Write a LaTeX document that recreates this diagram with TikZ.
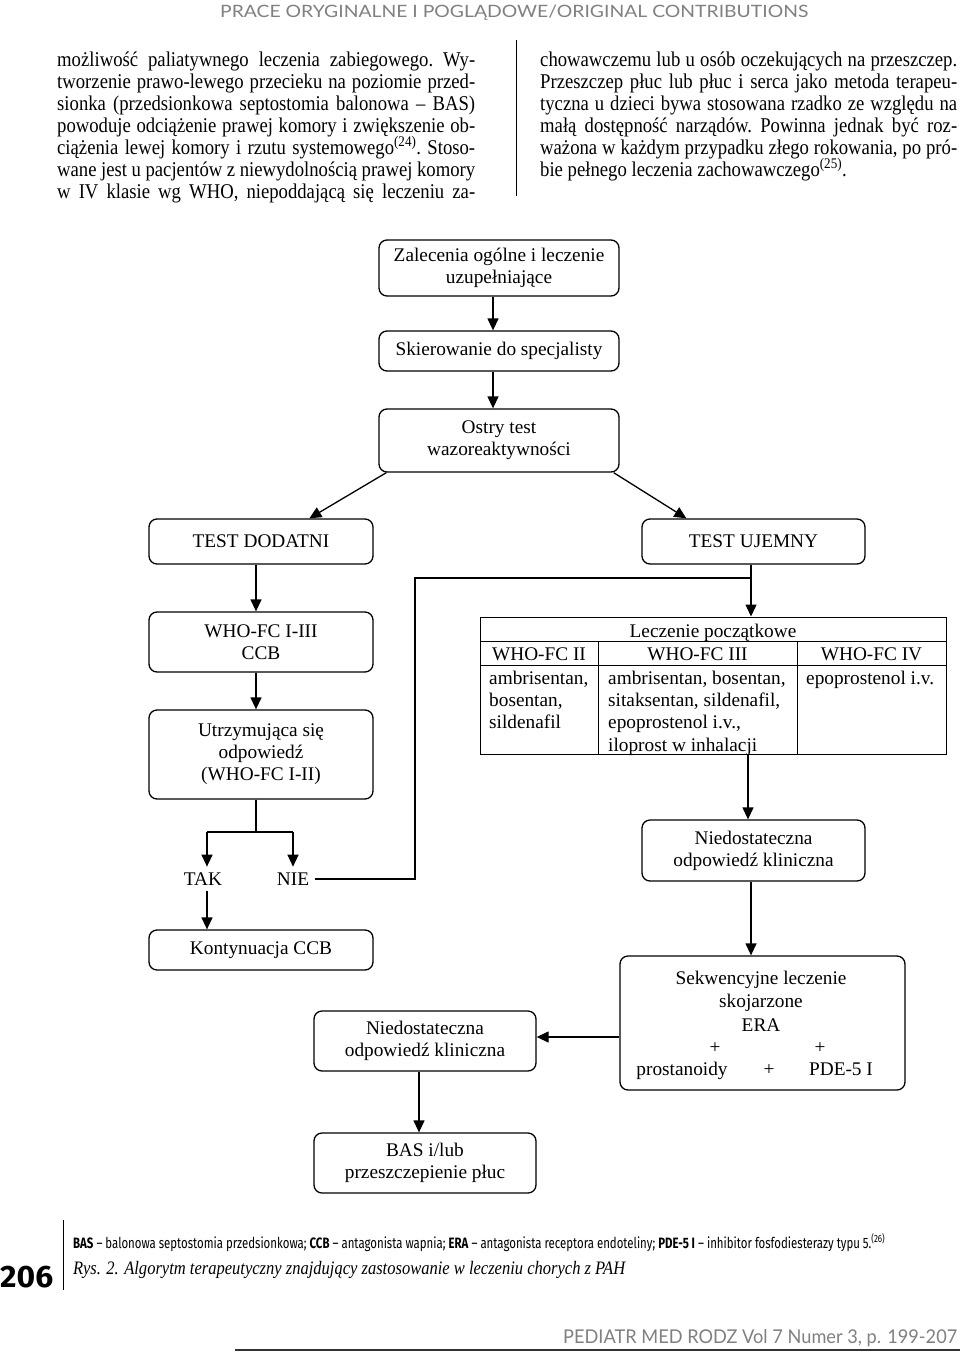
\documentclass[tikz,border=0pt]{standalone}
\usepackage{fontspec}
\usepackage{graphicx}
\setmainfont{Liberation Serif}
\newfontfamily\bodyf[FakeStretch=0.89]{Liberation Serif}
\newfontfamily\legf{Fira Sans}
\newfontfamily\hdrf{Lato}
\usetikzlibrary{arrows.meta}
\definecolor{hdrgray}{HTML}{808080}
\newcommand\fcfs{\fontsize{19.3}{22}\selectfont}
\newcommand\bodyfs{\bodyf\fontsize{21}{22}\selectfont\frenchspacing}
\tikzset{
  box/.style={draw, line width=1.3pt, rounded corners=8pt, inner sep=0pt, align=center, font=\fcfs},
  ln/.style={line width=1.3pt},
  tl/.style={line width=1pt},
  arr/.style={line width=1.3pt, -{Triangle[length=12pt,width=11pt]}},
  txt/.style={inner sep=0pt, font=\fcfs},
  bl/.style={anchor=base west, inner sep=0pt, font=\bodyfs},
}
\newcommand\jline[4]{\node[bl] (#1) at (#2) {\makebox[#3][s]{#4}};}
\begin{document}
\begin{tikzpicture}[x=1pt,y=-1pt]
\fill[white] (0,0) rectangle (960,1352);
\useasboundingbox (0,0) rectangle (960,1352);

% header
\node[anchor=base west, inner sep=0pt, text=hdrgray] (hdr) at (220,17)
  {\hdrf\fontsize{17}{17}\selectfont\resizebox{588pt}{\height}{PRACE ORYGINALNE I POGLĄDOWE/ORIGINAL CONTRIBUTIONS}};

% body text, left column
\jline{l1}{57,66}{418pt}{możliwość paliatywnego leczenia zabiegowego. Wy-}
\jline{l2}{57,88}{418pt}{tworzenie prawo-lewego przecieku na poziomie przed-}
\jline{l3}{57,110}{418pt}{sionka (przedsionkowa septostomia balonowa – BAS)}
\jline{l4}{57,132}{418pt}{powoduje odciążenie prawej komory i zwiększenie ob-}
\jline{l5}{57,154}{418pt}{ciążenia lewej komory i rzutu systemowego\textsuperscript{(24)}. Stoso-}
\jline{l6}{57,176}{418pt}{wane jest u pacjentów z niewydolnością prawej komory}
\jline{l7}{57,198}{418pt}{w IV klasie wg WHO, niepoddającą się leczeniu za-}
% divider
\coordinate (dv1) at (516,40);
\coordinate (dv2) at (516,196);
\draw[line width=1pt] (dv1) -- (dv2);
% right column
\jline{r1}{540,66}{417pt}{chowawczemu lub u osób oczekujących na przeszczep.}
\jline{r2}{540,88}{417pt}{Przeszczep płuc lub płuc i serca jako metoda terapeu-}
\jline{r3}{540,110}{417pt}{tyczna u dzieci bywa stosowana rzadko ze względu na}
\jline{r4}{540,132}{417pt}{małą dostępność narządów. Powinna jednak być roz-}
\jline{r5}{540,154}{417pt}{ważona w każdym przypadku złego rokowania, po pró-}
\node[bl] (r6) at (540,176) {bie pełnego leczenia zachowawczego\textsuperscript{(25)}.};

% flowchart boxes
\node[box, minimum width=240pt, minimum height=56pt] (z1) at (499,268) {Zalecenia ogólne i leczenie\\uzupełniające};
\node[box, minimum width=240pt, minimum height=40pt] (z2) at (499,351) {Skierowanie do specjalisty};
\node[box, minimum width=240pt, minimum height=63pt] (z3) at (499,440.5) {Ostry test\\wazoreaktywności};
\node[box, minimum width=224pt, minimum height=45pt] (dod) at (261,541.5) {TEST DODATNI};
\node[box, minimum width=223pt, minimum height=45pt] (uje) at (753.5,541.5) {TEST UJEMNY};
\node[box, minimum width=224pt, minimum height=60pt] (who) at (261,642) {WHO-FC I-III\\CCB};
\node[box, minimum width=224pt, minimum height=89pt] (utrz) at (261,754.5) {Utrzymująca się\\odpowiedź\\(WHO-FC I-II)};
\node[txt, outer sep=6pt] (tak) at (203,879) {TAK};
\node[txt, outer sep=6pt] (nie) at (293,879) {NIE};
\node[box, minimum width=224pt, minimum height=40pt] (kont) at (261,950) {Kontynuacja CCB};
\node[box, minimum width=223pt, minimum height=61pt] (nied1) at (753.5,850.5) {Niedostateczna\\odpowiedź kliniczna};
\node[box, minimum width=285pt, minimum height=134pt] (sekw) at (762.5,1023) {};
\node[txt] (s1) at (761,980) {Sekwencyjne leczenie};
\node[txt, anchor=base] (s2) at (761,1007.5) {skojarzone};
\node[txt, anchor=base] (s3) at (761,1031.5) {ERA};
\node[txt, anchor=base] (p1) at (715,1053.5) {+};
\node[txt, anchor=base] (p2) at (820,1053.5) {+};
\node[txt, anchor=base] (pr) at (682,1075.5) {prostanoidy};
\node[txt, anchor=base] (p3) at (769,1075.5) {+};
\node[txt, anchor=base] (pde) at (841,1075.5) {PDE-5 I};
\node[box, minimum width=222pt, minimum height=60pt] (nied2) at (425,1041) {Niedostateczna\\odpowiedź kliniczna};
\node[box, minimum width=222pt, minimum height=60pt] (bas) at (425,1163) {BAS i/lub\\przeszczepienie płuc};

% table
\node[draw, line width=1pt, minimum width=466pt, minimum height=137pt, inner sep=0pt] (tab) at (713,685.5) {};
\coordinate (h1) at (0,641);
\coordinate (h2) at (0,665);
\coordinate (v1) at (598,0);
\coordinate (v2) at (797,0);
\draw[tl] (tab.west |- h1) -- (tab.east |- h1);
\draw[tl] (tab.west |- h2) -- (tab.east |- h2);
\draw[tl] (v1 |- h1) -- (v1 |- tab.south);
\draw[tl] (v2 |- h1) -- (v2 |- tab.south);
\node[txt, anchor=base] (th) at (713,637.5) {Leczenie początkowe};
\node[txt, anchor=base] (c1) at (539,660) {WHO-FC II};
\node[txt, anchor=base] (c2) at (697.5,660) {WHO-FC III};
\node[txt, anchor=base] (c3) at (871.5,660) {WHO-FC IV};
\node[txt, anchor=base west] (a1) at (489,684.5) {ambrisentan,};
\node[txt, anchor=base west] (a2) at (489,706.5) {bosentan,};
\node[txt, anchor=base west] (a3) at (489,728.5) {sildenafil};
\node[txt, anchor=base west] (b1) at (608,684.5) {ambrisentan, bosentan,};
\node[txt, anchor=base west] (b2) at (608,706.5) {sitaksentan, sildenafil,};
\node[txt, anchor=base west] (b3) at (608,728.5) {epoprostenol i.v.,};
\node[txt, anchor=base west] (b4) at (608,751) {iloprost w inhalacji};
\node[txt, anchor=base west] (d1) at (806,684.5) {epoprostenol i.v.};

% connectors
\draw[arr] ([xshift=-6pt]z1.south) -- ([xshift=-6pt]z2.north);
\draw[arr] ([xshift=-6pt]z2.south) -- ([xshift=-6pt]z3.north);
\draw[arr] ([xshift=8pt]z3.south west) -- ([xshift=161pt]dod.north west);
\draw[arr] ([xshift=-6pt]z3.south east) -- ([xshift=45pt]uje.north west);
\draw[arr] ([xshift=-5pt]dod.south) -- ([xshift=-5pt]who.north);
\draw[arr] ([xshift=-5pt]who.south) -- ([xshift=-5pt]utrz.north);
\coordinate (jc) at (256,832);
\coordinate (jl) at (207,832);
\coordinate (jr) at (293,832);
\draw[ln] ([xshift=-5pt]utrz.south) -- (jc);
\draw[ln] (jl) -- (jr);
\draw[arr] (jl) -- (jl |- tak.north);
\draw[arr] (jr) -- (jr |- nie.north);
\draw[arr] (jl |- tak.south) -- (jl |- kont.north);
\coordinate (cL) at (415,879);
\coordinate (cT) at (751,578);
\draw[ln] (nie.east) -- (cL) |- (cT);
\draw[arr] (uje.south -| cT) -- (tab.north -| cT);
\coordinate (cx1) at (748,0);
\draw[arr] (tab.south -| cx1) -- (nied1.north -| cx1);
\draw[arr] (nied1.south -| cT) -- (sekw.north -| cT);
\coordinate (cy) at (0,1037);
\draw[arr] (sekw.west |- cy) -- (nied2.east |- cy);
\coordinate (cx2) at (419,0);
\draw[arr] (nied2.south -| cx2) -- (bas.north -| cx2);

% legend and caption
\coordinate (vr1) at (63,1220);
\coordinate (vr2) at (63,1290);
\draw[line width=1pt] (vr1) -- (vr2);
\node[anchor=base west, inner sep=0pt] (leg) at (73,1248)
  {\legf\fontsize{15}{15}\selectfont\resizebox{812pt}{\height}{\textbf{BAS} – balonowa septostomia przedsionkowa; \textbf{CCB} – antagonista wapnia; \textbf{ERA} – antagonista receptora endoteliny; \textbf{PDE-5 I} – inhibitor fosfodiesterazy typu 5.\textsuperscript{(26)}}};
\node[anchor=base west, inner sep=0pt] (cap) at (73,1274)
  {\fontsize{19}{19}\selectfont\itshape\resizebox{552pt}{\height}{Rys. 2. Algorytm terapeutyczny znajdujący zastosowanie w leczeniu chorych z PAH}};
\node[anchor=base west, inner sep=0pt] (pg) at (0,1287)
  {\legf\bfseries\fontsize{31}{31}\selectfont\resizebox{53pt}{\height}{206}};

% footer
\node[anchor=base west, inner sep=0pt, text=hdrgray] (ftr) at (563,1343)
  {\hdrf\fontsize{19}{19}\selectfont\resizebox{394pt}{\height}{PEDIATR MED RODZ Vol 7 Numer 3, p. 199-207}};
\coordinate (f1) at (235,1350);
\coordinate (f2) at (960,1350);
\draw[line width=1.2pt, black!80] (f1) -- (f2);
\end{tikzpicture}
\end{document}
